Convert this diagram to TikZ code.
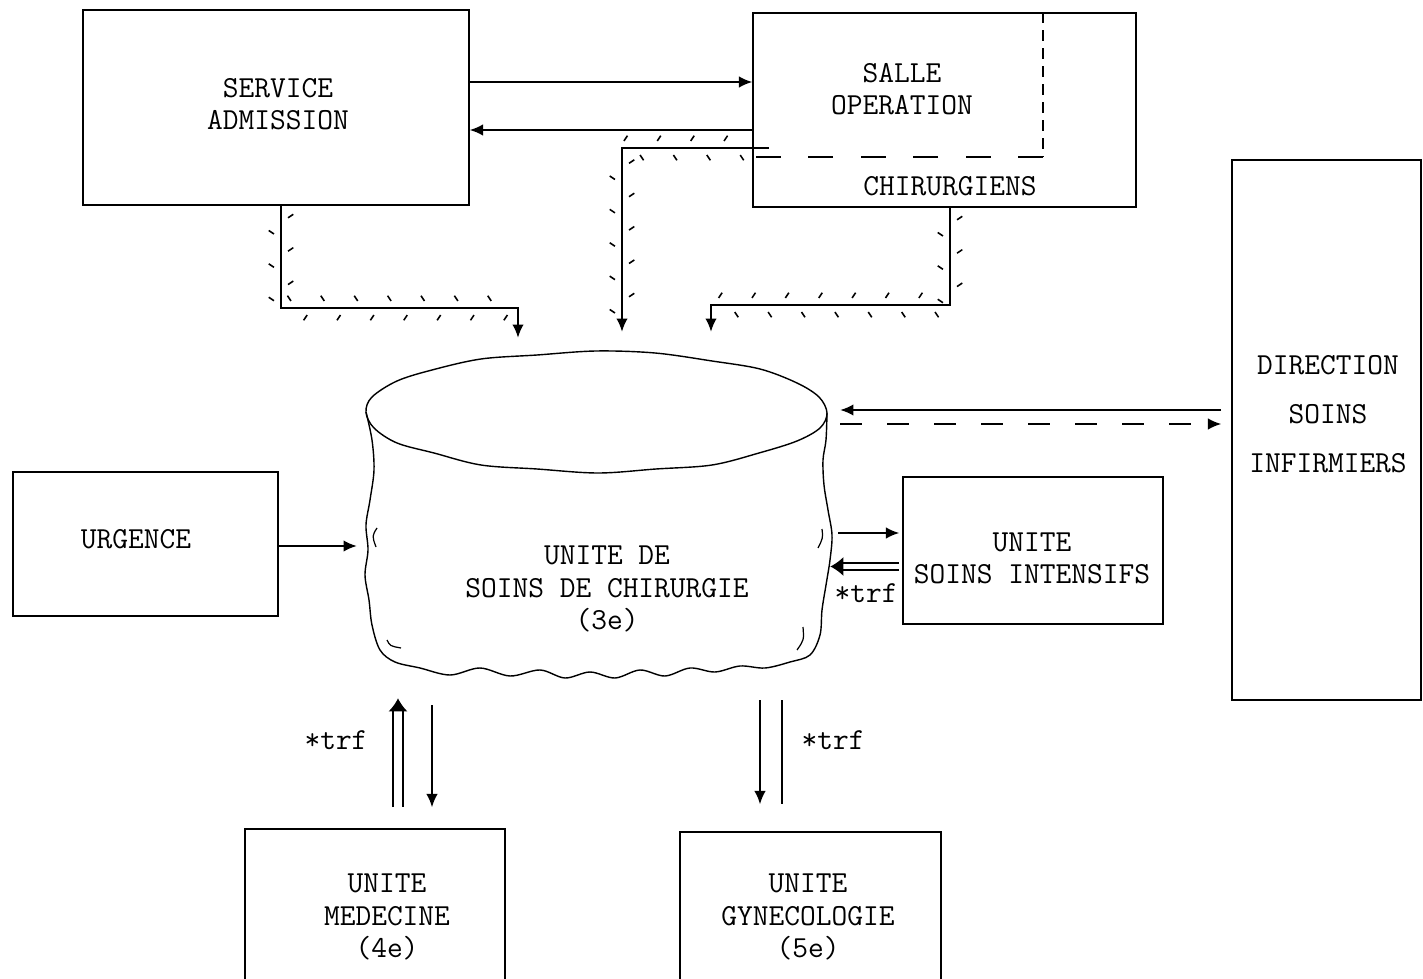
\documentclass[tikz,border=0pt]{standalone}
\usetikzlibrary{arrows.meta,decorations.markings}

\tikzset{
  lbl/.style={align=center, font=\fontsize{17.4}{18.3}\selectfont\ttfamily},
  box/.style={draw, line width=1pt, inner sep=0pt, lbl},
  flow/.style={line width=0.9pt, -{Latex[length=7.5pt,width=6.5pt]}},
  dflow/.style={line width=0.9pt, double, double distance=#1, -{Latex[length=7.5pt,width=11pt]}},
  hatched/.style={line width=0.9pt, postaction={decorate, decoration={markings,
    mark=between positions 6pt and -28pt step 19pt with {
      \draw[-, solid, line width=0.9pt, shorten <=0pt, shorten >=0pt] (-1.2pt,7pt) -- (0.8pt,4pt);
      \draw[-, solid, line width=0.9pt, shorten <=0pt, shorten >=0pt] (8pt,-7pt) -- (10pt,-4pt);}}}},
}

\begin{document}
\begin{tikzpicture}[x=0.02cm, y=-0.02cm]
  \useasboundingbox (0,0) rectangle (1423,979);

  % boxes
  \node[box, minimum width=7.72cm, minimum height=3.9cm] (adm) at (276,107.5) {};
  \node[lbl] (admlbl) at (278,104) {SERVICE\\ADMISSION};
  \node[box, minimum width=7.66cm, minimum height=3.88cm] (salle) at (944.5,110) {};
  \node[lbl] (sallelbl) at (902,89) {SALLE\\OPERATION};
  \node[lbl] (chirlbl) at (950,186) {CHIRURGIENS};
  \draw[line width=0.8pt, dash pattern=on 0.22cm off 0.14cm] (salle.north -| 1043,0) -- (1043,157);
  \draw[line width=0.8pt, dash pattern=on 0.5cm off 0.55cm] (1043,157) -- (salle.west |- 0,157);

  \node[box, minimum width=3.78cm, minimum height=10.8cm] (dsi) at (1326.5,430) {};
  \node[lbl, font=\fontsize{17.4}{27.8}\selectfont\ttfamily] (dsilbl) at (1328,414) {DIRECTION\\SOINS\\INFIRMIERS};

  \node[box, minimum width=5.3cm, minimum height=2.88cm] (urg) at (145.5,544) {};
  \node[lbl] (urglbl) at (136,539) {URGENCE};
  \node[box, minimum width=5.2cm, minimum height=2.94cm] (usi) at (1033,550.5) {};
  \node[lbl] (usilbl) at (1032,558) {UNITE\\SOINS INTENSIFS};
  \node[box, minimum width=5.2cm, minimum height=3.22cm] (med) at (375,909.5) {};
  \node[lbl] (medlbl) at (387,917) {UNITE\\MEDECINE\\(4e)};
  \node[box, minimum width=5.22cm, minimum height=3.16cm] (gyn) at (810.5,911) {};
  \node[lbl] (gynlbl) at (808,917) {UNITE\\GYNECOLOGIE\\(5e)};

  % cylinder
  \node[minimum width=9.28cm, minimum height=6.56cm, inner sep=0pt] (cyl) at (598,514) {};
  \draw[line width=0.8pt] plot[smooth cycle, tension=0.55] coordinates {
    (827,413) (819,397) (797,383) (760,369) (712,361) (655,353) (596,351) (537,355)
    (481,359) (432,370) (397,381) (372,397) (366,412) (374,428) (397,443) (434,453)
    (481,465) (537,469) (598,473) (656,469) (712,465) (759,453) (797,441) (820,428)};
  \draw[line width=0.8pt] plot[smooth, tension=0.55] coordinates {
    (366,412) (372,440) (374,470) (370,500) (366,525) (368,550) (365,575) (369,600)
    (372,625) (380,650) (395,662) (420,668) (450,675) (480,668) (510,676) (540,670)
    (565,678) (590,672) (615,678) (640,670) (665,676) (690,668) (715,672) (740,666)
    (765,668) (790,662) (810,655) (820,635) (822,610) (826,585) (830,560) (832,535)
    (828,510) (824,485) (823,460) (826,440) (827,413)};
  \draw[line width=0.7pt] (377,528) .. controls (372,536) .. (376,547);
  \draw[line width=0.7pt] (822,529) .. controls (823,538) .. (818,548);
  \draw[line width=0.7pt] (387,640) .. controls (390,646) .. (401,648);
  \draw[line width=0.7pt] (803,627) .. controls (804,640) .. (797,650);
  \node[lbl] (usclbl) at (607,589) {UNITE DE\\SOINS DE CHIRURGIE\\(3e)};

  % flows
  \draw[flow] (adm.east |- 0,82) -- (salle.west |- 0,82);
  \draw[flow] (salle.west |- 0,130) -- (adm.east |- 0,130);
  \draw[hatched, flow, shorten >=0.24cm] (adm.south -| 281,0) |- (518,308) -- (cyl.north -| 518,0);
  \draw[hatched, flow, shorten <=-0.34cm, shorten >=0.36cm] (salle.west |- 0,148) -| (cyl.north -| 622,0);
  \draw[hatched, flow, shorten >=0.36cm] (salle.south -| 950,0) |- (711,305) -- (cyl.north -| 711,0);

  \draw[flow, shorten <=0.2cm, shorten >=0.2cm] (dsi.west |- 0,410) -- (cyl.east |- 0,410);
  \draw[flow, dash pattern=on 0.44cm off 0.5cm, shorten <=0.2cm, shorten >=0.2cm] (cyl.east |- 0,424) -- (dsi.west |- 0,424);

  \draw[flow, shorten >=0.18cm] (urg.east |- 0,546) -- (cyl.west |- 0,546);
  \draw[flow, shorten <=0.16cm, shorten >=0.06cm] (cyl.east |- 0,533) -- (usi.west |- 0,533);
  \draw[dflow=3.1pt, shorten <=0.06cm] (usi.west |- 0,566.5) -- (cyl.east |- 0,566.5);
  \node[lbl] (trfsi) at (866,593) {*trf};

  \draw[dflow=4.8pt, shorten <=0.42cm, shorten >=0.4cm] (med.north -| 398,0) -- (cyl.south -| 398,0);
  \draw[flow, shorten <=0.54cm, shorten >=0.42cm] (cyl.south -| 432,0) -- (med.north -| 432,0);
  \node[lbl] (trfmed) at (336,740) {*trf};

  \draw[flow, shorten <=0.44cm, shorten >=0.54cm] (cyl.south -| 760,0) -- (gyn.north -| 760,0);
  \draw[line width=0.9pt, shorten <=0.44cm, shorten >=0.54cm] (cyl.south -| 782,0) -- (gyn.north -| 782,0);
  \node[lbl] (trfgyn) at (833,740) {*trf};
\end{tikzpicture}
\end{document}
